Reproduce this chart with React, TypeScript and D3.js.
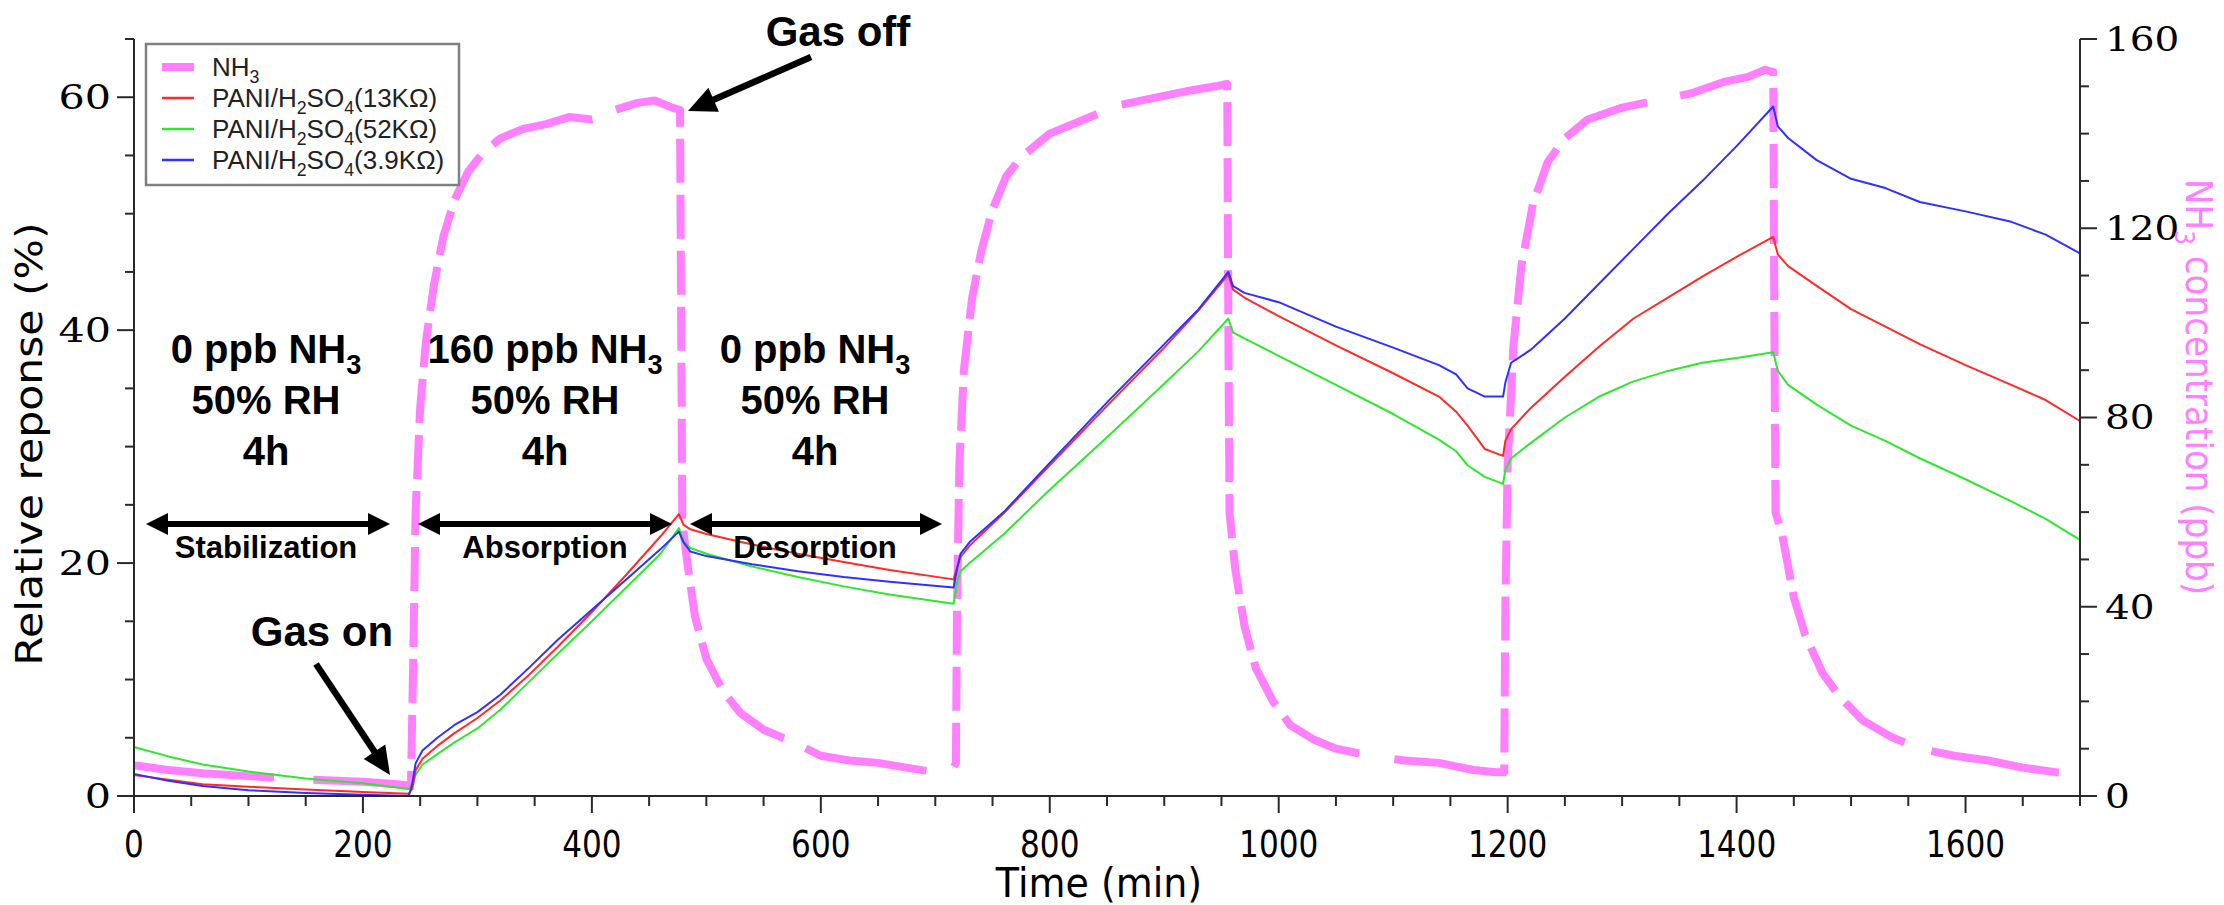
import React from "react";
import * as d3 from "d3";

// NH3 concentration fed to the chamber (ppb, right axis)
const nh3Time = [
  0, 30, 60, 100, 150, 200, 230, 240, 242, 244, 246, 250, 255, 262, 270, 280, 292, 305, 320, 340, 360, 380,
  400, 420, 440, 455, 470, 477, 478, 479, 483, 490, 500, 515, 530, 550, 575, 600, 625, 650, 675, 700, 715,
  718, 719, 721, 725, 732, 740, 750, 762, 775, 800, 830, 860, 890, 920, 945, 955, 956, 957, 962, 970, 980,
  995, 1010, 1030, 1050, 1080, 1110, 1140, 1170, 1190, 1197, 1198, 1200, 1205, 1212, 1222, 1235, 1250,
  1270, 1300, 1330, 1360, 1390, 1410, 1425, 1432, 1433, 1434, 1440, 1450, 1460, 1475, 1490, 1510, 1535,
  1560, 1590, 1620, 1650, 1680, 1700,
];
const nh3Ppb = [
  6.5, 5.5, 4.8, 4.2, 3.5, 3.0, 2.5, 2.2, 3, 30, 60, 82, 96, 108, 118, 126, 132, 136, 139, 141, 142, 143.5,
  143, 145, 146.5, 147, 145.5, 145, 100, 58, 50, 38, 29, 22, 17.5, 14, 11.5, 8.5, 7.5, 7, 6, 5, 5.5,
  7, 40, 70, 90, 105, 115, 124, 131, 135, 140, 143, 146, 147.5, 149, 150, 150.5, 100, 60, 48, 36, 27,
  20, 15, 12, 10, 8.5, 7.5, 7, 5.5, 5, 5, 40, 70, 95, 112, 125, 134, 139,
  143, 145.5, 147, 148.5, 151, 152, 153.5, 153, 100, 60, 55, 42, 34, 26, 21, 16, 12.5,
  10, 8.5, 7.5, 6, 5, 4.7,
];

// Sensor responses (%, left axis), sampled on a common time base
const paniTime = [
  0, 30, 60, 100, 150, 200, 240,
  243, 246, 252, 265, 280, 300, 320, 345, 370, 400, 430, 460, 476,
  480, 486, 500, 540, 580, 620, 660, 716,
  719, 722, 730, 760, 800, 850, 900, 930, 956,
  960, 970, 1000, 1050, 1100, 1140, 1155, 1165, 1180, 1196,
  1198, 1203, 1220, 1250, 1280, 1310, 1340, 1370, 1400, 1432,
  1436, 1445, 1470, 1500, 1530, 1560, 1600, 1640, 1670, 1700,
];
const pani13k = [
  1.8, 1.4, 1.0, 0.8, 0.55, 0.35, 0.2,
  0.6, 2.2, 3.2, 4.3, 5.4, 6.7, 8.2, 10.4, 12.8, 15.8, 19.0, 22.3, 24.2,
  23.3, 22.9, 22.5, 21.6, 20.8, 20.1, 19.4, 18.6,
  19.6, 20.5, 21.5, 24.3, 28.4, 33.5, 38.5, 41.7, 44.8,
  43.5, 42.8, 41.2, 38.7, 36.3, 34.3, 33.0, 31.8, 29.8, 29.2,
  30.5, 31.5, 33.3, 36.0, 38.6, 41.0, 42.8, 44.6, 46.3, 48.0,
  46.5, 45.5, 43.8, 41.8, 40.3, 38.8, 37.0, 35.3, 34.0, 32.2,
];
const pani52k = [
  4.2, 3.4, 2.7, 2.1, 1.5, 1.1, 0.6,
  1.0, 1.8, 2.7, 3.6, 4.6, 5.8, 7.4, 9.8, 12.2, 15.0, 17.9, 20.8, 23.0,
  21.9, 21.3, 20.8, 19.7, 18.8, 18.0, 17.3, 16.5,
  18.3, 19.3, 20.0, 22.5, 26.3, 30.8, 35.4, 38.2, 41.0,
  39.8, 39.3, 37.8, 35.3, 32.8, 30.6, 29.6, 28.4, 27.4, 26.8,
  28.0, 29.0, 30.3, 32.5, 34.3, 35.6, 36.5, 37.2, 37.6, 38.1,
  36.5, 35.3, 33.6, 31.8, 30.5, 29.0, 27.2, 25.3, 23.8, 22.0,
];
const pani39k = [
  1.9, 1.3, 0.85, 0.5, 0.25, 0.1, 0.0,
  1.0, 2.8, 3.9, 5.0, 6.1, 7.2, 8.7, 11.0, 13.4, 16.0, 18.6, 21.2, 22.7,
  21.8, 21.0, 20.6, 19.9, 19.3, 18.8, 18.4, 17.9,
  19.5, 20.8, 21.8, 24.4, 28.6, 33.8, 38.8, 41.8, 45.0,
  43.8, 43.2, 42.4, 40.3, 38.5, 37.0, 36.2, 35.0, 34.3, 34.3,
  35.5, 37.2, 38.3, 41.0, 44.0, 47.0, 50.0, 52.8, 55.8, 59.2,
  57.5, 56.5, 54.6, 53.0, 52.2, 51.0, 50.2, 49.3, 48.2, 46.6,
];

const xTickValues = [0, 200, 400, 600, 800, 1000, 1200, 1400, 1600];
const leftTickValues = [0, 20, 40, 60];
const rightTickValues = [0, 40, 80, 120, 160];
const sensorLabels = ["13K\u03a9", "52K\u03a9", "3.9K\u03a9"];

const PINK = "#ff80ff";
const RED = "#ff2a2a";
const GREEN = "#2ee82e";
const BLUE = "#3030ff";
const AXIS = "#2a2a2a";

const W = 2224;
const H = 905;
const L = 134;
const R = 2080;
const T = 39;
const B = 796;

const x = d3.scaleLinear().domain([0, 1700]).range([L, R]);
const yL = d3.scaleLinear().domain([0, 65]).range([B, T]);
const yR = d3.scaleLinear().domain([0, 160]).range([B, T]);

type Pt = [number, number];

// Splits a polyline into dash pieces; horizontal travel is weighted less so that
// the near-flat plateaus stay mostly solid while the steep steps look dashed.
function dashPieces(pts: Pt[], dash: number, gap: number, wx: number): Pt[][] {
  const out: Pt[][] = [];
  let on = true;
  let remain = dash;
  let cur: Pt[] = [pts[0]];
  for (let i = 1; i < pts.length; i++) {
    const [x0, y0] = pts[i - 1];
    const [x1, y1] = pts[i];
    const len = Math.hypot((x1 - x0) * wx, y1 - y0);
    if (len === 0) continue;
    let t0 = 0;
    while (len * (1 - t0) > remain) {
      const t = t0 + remain / len;
      const p: Pt = [x0 + (x1 - x0) * t, y0 + (y1 - y0) * t];
      if (on) {
        cur.push(p);
        out.push(cur);
        cur = [];
        on = false;
        remain = gap;
      } else {
        cur = [p];
        on = true;
        remain = dash;
      }
      t0 = t;
    }
    remain -= len * (1 - t0);
    if (on) cur.push([x1, y1]);
  }
  if (on && cur.length > 1) out.push(cur);
  return out;
}

// Text runs with subscripts: [text, isSubscript]
type Run = [string, boolean];
function runs(parts: Run[], fontSize: number, ratio = 0.68) {
  const shift = fontSize * 0.28;
  let below = false;
  return parts.map(([s, sub], i) => {
    let dy = 0;
    if (sub && !below) dy = shift;
    if (!sub && below) dy = -shift;
    below = sub;
    return (
      <tspan key={i} dy={dy || undefined} fontSize={sub ? fontSize * ratio : undefined}>
        {s}
      </tspan>
    );
  });
}

function DoubleArrow({ x1, x2, y }: { x1: number; x2: number; y: number }) {
  const hl = 22;
  const hw = 11;
  return (
    <g fill="#000">
      <line x1={x1 + hl - 2} x2={x2 - hl + 2} y1={y} y2={y} stroke="#000" strokeWidth={6} />
      <polygon points={`${x1},${y} ${x1 + hl},${y - hw} ${x1 + hl},${y + hw}`} />
      <polygon points={`${x2},${y} ${x2 - hl},${y - hw} ${x2 - hl},${y + hw}`} />
    </g>
  );
}

function Arrow({ x0, y0, x1, y1 }: { x0: number; y0: number; x1: number; y1: number }) {
  const hl = 28;
  const hw = 13;
  const dx = x1 - x0;
  const dy = y1 - y0;
  const len = Math.hypot(dx, dy);
  const ux = dx / len;
  const uy = dy / len;
  const bx = x1 - ux * hl;
  const by = y1 - uy * hl;
  const px = -uy;
  const py = ux;
  return (
    <g>
      <line x1={x0} y1={y0} x2={bx + ux * 2} y2={by + uy * 2} stroke="#000" strokeWidth={6.5} />
      <polygon
        fill="#000"
        points={`${x1},${y1} ${bx + px * hw},${by + py * hw} ${bx - px * hw},${by - py * hw}`}
      />
    </g>
  );
}

function PhaseBlock({ cx, ppb, label, x1, x2 }: { cx: number; ppb: string; label: string; x1: number; x2: number }) {
  const font = "'Liberation Sans', Arial, Helvetica, sans-serif";
  return (
    <g fontFamily={font} fontWeight="bold" textAnchor="middle" fill="#000">
      <text x={cx} y={363} fontSize={40}>
        {runs([[`${ppb} ppb NH`, false], ["3", true]], 40)}
      </text>
      <text x={cx} y={414} fontSize={40}>50% RH</text>
      <text x={cx} y={465} fontSize={40}>4h</text>
      <DoubleArrow x1={x1} x2={x2} y={524} />
      <text x={cx} y={558} fontSize={31}>{label}</text>
    </g>
  );
}

export default function App() {
  const line = d3
    .line<[number, number]>()
    .x((d) => x(d[0]))
    .y((d) => d[1]);

  const sensor = (vals: number[]) =>
    line(paniTime.map((t, i) => [t, yL(vals[i])] as [number, number])) || "";

  const nh3Pts: Pt[] = nh3Time.map((t, i) => [x(t), yR(nh3Ppb[i])]);
  const nh3Pieces = dashPieces(nh3Pts, 44, 12, 0.3);
  const pieceLine = d3.line<Pt>().x((d) => d[0]).y((d) => d[1]);

  const xMinor = d3.range(0, 1701, 50);
  const yLMinor = d3.range(0, 66, 5);
  const yRMinor = d3.range(0, 161, 10);

  const tickFont = "'DejaVu Serif', serif";
  const xFont = "'DejaVu Sans', Verdana, sans-serif";
  const legendFont = "'Liberation Sans', Arial, sans-serif";

  const legendColors = [PINK, RED, GREEN, BLUE];

  return (
    <svg
      width={W}
      height={H}
      viewBox={`0 0 ${W} ${H}`}
      style={{ position: "absolute", left: 0, top: 0, background: "#fff" }}
    >
      <rect width={W} height={H} fill="#fff" />

      {/* NH3 trace */}
      <g fill="none" stroke={PINK} strokeWidth={8} strokeLinejoin="round">
        {nh3Pieces.map((p, i) => (
          <path key={i} d={pieceLine(p) || ""} />
        ))}
      </g>

      {/* sensor traces */}
      <g fill="none" strokeWidth={2} strokeLinejoin="round">
        <path d={sensor(pani52k)} stroke={GREEN} />
        <path d={sensor(pani13k)} stroke={RED} />
        <path d={sensor(pani39k)} stroke={BLUE} />
      </g>

      {/* axes */}
      <g stroke={AXIS} strokeWidth={2} fill="none">
        <path d={`M${L},${T}V${B}H${R}V${T}`} />
        {xMinor.map((t) => (
          <line key={`xm${t}`} x1={x(t)} x2={x(t)} y1={B} y2={B + (t % 200 === 0 ? 17 : 10)} />
        ))}
        {yLMinor.map((v) => (
          <line key={`yl${v}`} x1={L} x2={L - (v % 20 === 0 ? 17 : 9)} y1={yL(v)} y2={yL(v)} />
        ))}
        {yRMinor.map((v) => (
          <line key={`yr${v}`} x1={R} x2={R + (v % 40 === 0 ? 17 : 9)} y1={yR(v)} y2={yR(v)} />
        ))}
      </g>

      {/* tick labels */}
      <g fontFamily={xFont} fontSize={38} fill="#000" textAnchor="middle">
        {xTickValues.map((t) => (
          <g key={t} transform={`translate(${x(t)},857) scale(0.82,1)`}>
            <text x={0} y={0}>{t}</text>
          </g>
        ))}
      </g>
      <g fontFamily={tickFont} fontSize={33} fill="#000" textAnchor="end">
        {leftTickValues.map((v) => (
          <g key={v} transform={`translate(111,${yL(v)}) scale(1.25,1)`}>
            <text x={0} y={0} dy="0.36em">{v}</text>
          </g>
        ))}
      </g>
      <g fontFamily={tickFont} fontSize={33} fill="#000" textAnchor="start">
        {rightTickValues.map((v) => (
          <g key={v} transform={`translate(2105,${yR(v)}) scale(1.18,1)`}>
            <text x={0} y={0} dy="0.36em">{v}</text>
          </g>
        ))}
      </g>

      {/* axis titles */}
      <g transform="translate(1099,897) scale(0.95,1)">
        <text fontFamily={xFont} fontSize={40} textAnchor="middle" fill="#000">Time (min)</text>
      </g>
      <g transform="translate(42,444) rotate(-90) scale(1.12,1)">
        <text fontFamily={xFont} fontSize={38} textAnchor="middle" fill="#000">Relative reponse (%)</text>
      </g>
      <g transform="translate(2186,387) rotate(90) scale(0.9,1)">
        <text fontFamily={xFont} fontSize={38} textAnchor="middle" fill={PINK}>
          {runs([["NH", false], ["3", true], [" concentration (ppb)", false]], 38)}
        </text>
      </g>

      {/* legend */}
      <g>
        <rect x={146} y={44} width={313} height={141} fill="#fff" stroke="#808080" strokeWidth={2.5} />
        {legendColors.map((c, i) => {
          const cy = 67 + i * 31;
          return (
            <g key={c}>
              <line x1={162} x2={194} y1={cy} y2={cy} stroke={c} strokeWidth={i === 0 ? 8 : 2.5} />
              <text x={212} y={cy + 9} fontFamily={legendFont} fontSize={26} fill="#222">
                {i === 0
                  ? runs([["NH", false], ["3", true]], 26)
                  : runs(
                      [
                        ["PANI/H", false],
                        ["2", true],
                        ["SO", false],
                        ["4", true],
                        [`(${sensorLabels[i - 1]})`, false],
                      ],
                      26
                    )}
              </text>
            </g>
          );
        })}
      </g>

      {/* phase annotations */}
      <PhaseBlock cx={266} ppb="0" label="Stabilization" x1={146} x2={390} />
      <PhaseBlock cx={545} ppb="160" label="Absorption" x1={418} x2={672} />
      <PhaseBlock cx={815} ppb="0" label="Desorption" x1={690} x2={942} />

      <g fontFamily={legendFont} fontWeight="bold" fontSize={42} fill="#000" textAnchor="middle">
        <text x={838} y={46}>Gas off</text>
        <text x={322} y={646}>Gas on</text>
      </g>
      <Arrow x0={811} y0={57} x1={688} y1={111} />
      <Arrow x0={316} y0={664} x1={390} y1={775} />
    </svg>
  );
}
